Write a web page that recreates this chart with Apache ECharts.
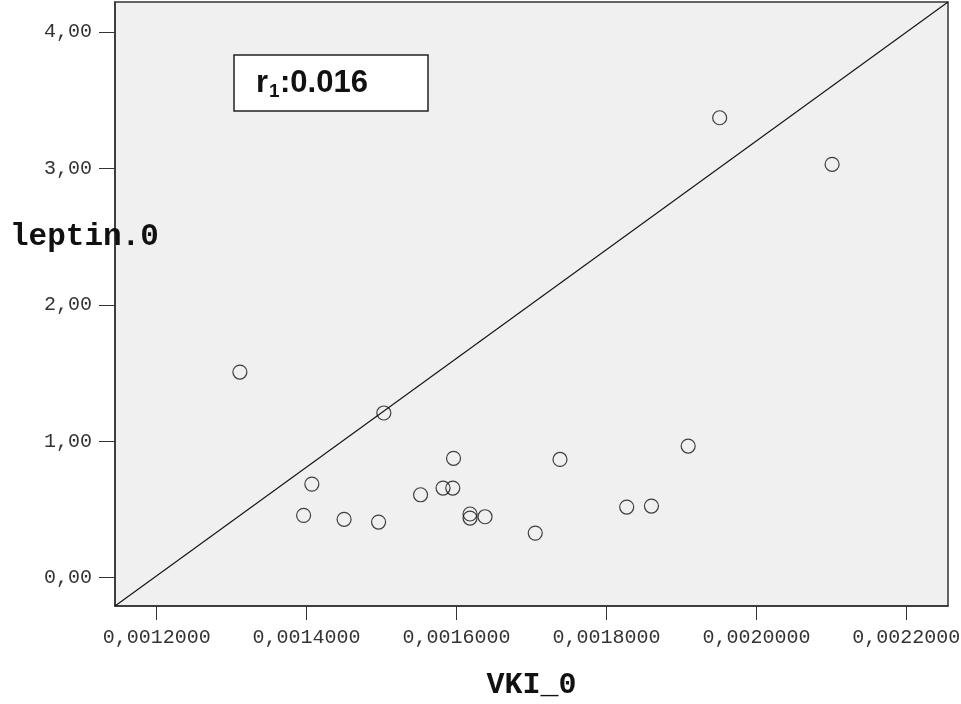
<!DOCTYPE html>
<html>
<head>
<meta charset="utf-8">
<script src="https://cdn.jsdelivr.net/npm/echarts@6/dist/echarts.min.js"></script>
<style>
  html, body { margin: 0; padding: 0; background: #fff; }
  #chart { width: 961px; height: 704px; }
</style>
</head>
<body>
<div id="chart"></div>
<script>
// VKI_0 vs leptin.0, one point per subject
const vki = [
  0.001311, 0.001503, 0.001407, 0.001396, 0.001450, 0.001496, 0.001552,
  0.001582, 0.001595, 0.001596, 0.001618, 0.001618, 0.001638, 0.001705,
  0.001738, 0.001909, 0.001827, 0.001860, 0.001951, 0.002101
];
const leptin = [
  1.507, 1.207, 0.686, 0.457, 0.428, 0.408, 0.608,
  0.657, 0.657, 0.875, 0.467, 0.437, 0.447, 0.327,
  0.867, 0.965, 0.518, 0.525, 3.370, 3.029
];

// Axis ranges and tick positions
const xRange = [0.0011444, 0.0022556];
const yRange = [-0.207, 4.218];
const xTicks = [0.0012, 0.0014, 0.0016, 0.0018, 0.0020, 0.0022];
const yTicks = [0, 1, 2, 3, 4];

const points = vki.map((v, i) => [v, leptin[i]]);
// Reference line running corner to corner of the plot area
const refLine = [[xRange[0], yRange[0]], [xRange[1], yRange[1]]];

const monoFont = '"Liberation Mono", "Courier New", monospace';

const chart = echarts.init(document.getElementById('chart'), null, { renderer: 'canvas' });
chart.setOption({
  animation: false,
  backgroundColor: '#ffffff',
  grid: {
    left: 115, top: 2, right: 13, bottom: 98,
    outerBoundsMode: 'none',
    containLabel: false,
    show: true, backgroundColor: '#f0f0f0',
    borderColor: '#333', borderWidth: 1.5
  },
  xAxis: {
    type: 'value',
    min: xRange[0], max: xRange[1],
    name: 'VKI_0',
    nameLocation: 'middle',
    nameGap: 64,
    nameTextStyle: { fontFamily: monoFont, fontWeight: 'bold', fontSize: 30, color: '#111' },
    splitLine: { show: false },
    axisLine: { show: true, onZero: false, lineStyle: { color: '#333', width: 1.5 } },
    axisTick: { show: true, length: 14, customValues: xTicks, lineStyle: { color: '#333' } },
    axisLabel: {
      customValues: xTicks,
      margin: 22,
      fontFamily: monoFont, fontSize: 20, color: '#333',
      formatter: v => v.toFixed(7).replace('.', ',')
    }
  },
  yAxis: {
    type: 'value',
    min: yRange[0], max: yRange[1],
    splitLine: { show: false },
    axisLine: { show: true, onZero: false, lineStyle: { color: '#333', width: 1.5 } },
    axisTick: { show: true, length: 16, customValues: yTicks, lineStyle: { color: '#333' } },
    axisLabel: {
      customValues: yTicks,
      margin: 23,
      fontFamily: monoFont, fontSize: 20, color: '#333',
      formatter: v => v.toFixed(2).replace('.', ',')
    }
  },
  series: [
    {
      type: 'line',
      data: refLine,
      symbol: 'none',
      silent: true,
      lineStyle: { color: '#111', width: 1.1 },
      z: 2
    },
    {
      type: 'scatter',
      data: points,
      symbol: 'circle',
      symbolSize: 14,
      itemStyle: { color: 'rgba(0,0,0,0)', borderColor: '#111', borderWidth: 1.2 },
      z: 3
    }
  ],
  graphic: [
    {
      type: 'text',
      left: 10, top: 222,
      style: { text: 'leptin.0', font: 'bold 31px ' + monoFont, fill: '#111' },
      z: 10
    },
    {
      type: 'rect',
      shape: { x: 234, y: 55, width: 194, height: 56 },
      style: { fill: '#ffffff', stroke: '#222', lineWidth: 1.5 },
      z: 10
    },
    {
      type: 'text',
      x: 256, y: 83.5,
      style: { text: 'r', font: 'bold 31px "Liberation Sans", Arial, sans-serif', fill: '#111', verticalAlign: 'middle' },
      z: 11
    },
    {
      type: 'text',
      x: 269, y: 92,
      style: { text: '1', font: 'bold 19px "Liberation Sans", Arial, sans-serif', fill: '#111', verticalAlign: 'middle' },
      z: 11
    },
    {
      type: 'text',
      x: 280, y: 83.5,
      style: { text: ':0.016', font: 'bold 31px "Liberation Sans", Arial, sans-serif', fill: '#111', verticalAlign: 'middle' },
      z: 11
    }
  ]
});
</script>
</body>
</html>
